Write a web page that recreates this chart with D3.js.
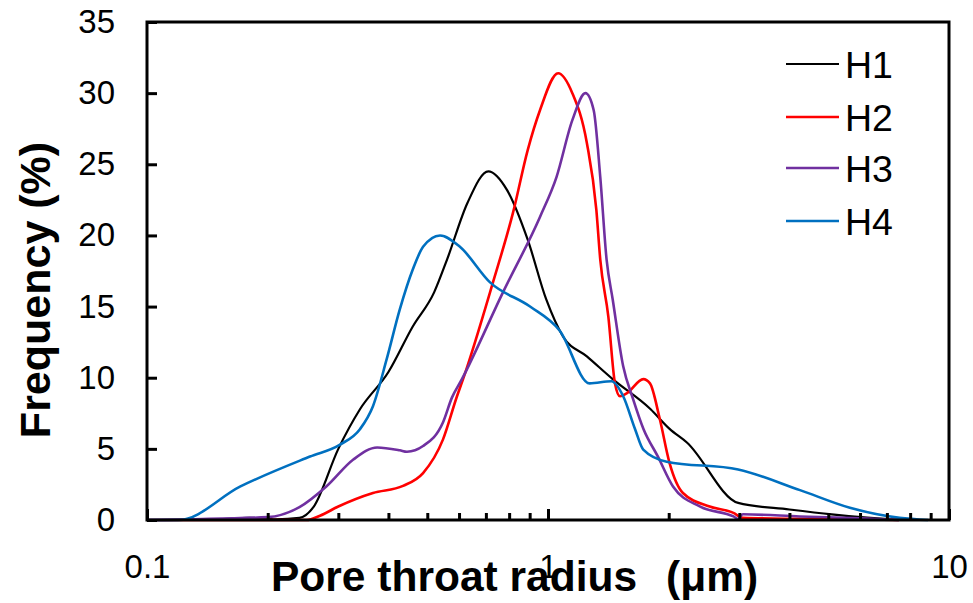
<!DOCTYPE html>
<html><head><meta charset="utf-8">
<script src="https://cdn.jsdelivr.net/npm/d3@7"></script>
<style>
html,body{margin:0;padding:0;background:#fff;}
text{font-family:"Liberation Sans",Arial,sans-serif;}
</style></head>
<body><svg id="c" width="973" height="603"></svg>
<script>
// ---- data ----
const seriesNames = ["H1","H2","H3","H4"];
const seriesColors = ["#000000","#FF0000","#7030A0","#0070C0"];

const radiusH1 = [0.10,0.15,0.18,0.21,0.24,0.26,0.30,0.34,0.40,0.46,0.52,0.56,0.63,0.71,0.79,0.89,0.99,1.09,1.25,1.45,1.80,2.01,2.22,2.98,4.0,5.1,6.25,7.5];
const freqH1   = [0,0.05,0.15,0.05,0.15,0.9,5.0,7.8,10.4,13.6,16.0,18.3,22.3,24.5,23.2,19.7,15.5,12.9,11.5,9.9,7.8,6.4,5.45,1.2,0.74,0.4,0.17,0];

const radiusH2 = [0.10,0.20,0.25,0.27,0.30,0.366,0.435,0.488,0.547,0.593,0.614,0.729,0.818,0.89,0.955,1.06,1.15,1.25,1.32,1.35,1.414,1.469,1.512,1.571,1.729,1.796,1.90,2.01,2.17,2.53,2.9,3.06,4.25,6.25,7.5];
const freqH2   = [0,0,0,0.3,0.95,1.9,2.4,3.3,5.65,8.7,9.9,16.7,21.6,26.0,28.8,31.4,30.0,26.5,21.8,18.3,14.3,9.6,8.7,8.9,9.9,9.6,7.1,4.0,1.9,0.95,0.5,0.15,0.08,0.03,0];

const radiusH3 = [0.10,0.20,0.24,0.28,0.327,0.375,0.427,0.445,0.488,0.547,0.576,0.61,0.772,0.955,1.05,1.15,1.24,1.30,1.35,1.40,1.45,1.54,1.63,1.73,1.88,2.05,2.39,2.9,2.98,3.06,4.25,6.25,7.5];
const freqH3   = [0,0.2,0.9,2.35,4.25,5.1,4.9,4.8,5.2,6.85,8.6,9.9,16.0,21.3,24.1,28.1,30.0,28.8,24.1,18.3,15.5,10.8,8.5,6.4,4.45,2.35,0.95,0.25,0.08,0.4,0.25,0.1,0];

const radiusH4 = [0.10,0.12,0.171,0.255,0.303,0.34,0.366,0.396,0.427,0.46,0.488,0.538,0.603,0.717,0.902,1.07,1.27,1.44,1.54,1.648,1.728,1.977,2.98,4.25,5.66,7.53,8.87];
const freqH4   = [0,0,2.36,4.46,5.3,6.4,8.0,11.3,14.8,17.6,19.2,20.0,19.2,16.7,15.0,13.3,9.6,9.75,8.7,6.4,4.95,4.1,3.55,2.1,0.86,0.15,0];

const radiusSets = [radiusH1,radiusH2,radiusH3,radiusH4];
const freqSets = [freqH1,freqH2,freqH3,freqH4];

const yTicks = [0,5,10,15,20,25,30,35];
const xMinorTicks = [0.2,0.3,0.4,0.5,0.6,0.7,0.8,0.9,2,3,4,5,6,7,8,9];
const xMajorTicks = [0.1,1,10];
const xTitle = "Pore throat radius";
const xUnit = "(μm)";
const yTitle = "Frequency (%)";

// ---- chart ----
const svg = d3.select("#c");
const L=147,R=949,T=22,B=520;
const x = d3.scaleLog().domain([0.1,10]).range([L,R]);
const y = d3.scaleLinear().domain([0,35]).range([B,T]);

// curves
const line = d3.line().x(d=>x(d[0])).y(d=>y(d[1])).curve(d3.curveMonotoneX);
seriesNames.forEach((n,i)=>{
  const pts = radiusSets[i].map((r,j)=>[r,freqSets[i][j]]);
  svg.append("path").attr("d",line(pts)).attr("fill","none")
    .attr("stroke",seriesColors[i]).attr("stroke-width", i===0?2.2:2.6)
    .attr("stroke-linejoin","round");
});

// y axis
const ya = svg.append("g").attr("transform",`translate(${L},0)`)
  .call(d3.axisLeft(y).tickValues(yTicks).tickFormat(d3.format("d")).tickSizeInner(-10).tickSizeOuter(0).tickPadding(32));
ya.selectAll("text").attr("font-size",33).attr("fill","#000");
ya.selectAll("line").attr("stroke","#000").attr("stroke-width",3);
ya.select(".domain").remove();

// x axis minor ticks
const xa = svg.append("g").attr("transform",`translate(0,${B})`)
  .call(d3.axisBottom(x).tickValues(xMinorTicks).tickFormat("").tickSizeInner(-7).tickSizeOuter(0));
xa.selectAll("line").attr("stroke","#000").attr("stroke-width",3);
xa.select(".domain").remove();
const xb = svg.append("g").attr("transform",`translate(0,${B})`)
  .call(d3.axisBottom(x).tickValues(xMajorTicks).tickFormat(d=>d3.format("~g")(d)).tickSizeInner(-11).tickSizeOuter(0).tickPadding(35));
xb.selectAll("line").attr("stroke","#000").attr("stroke-width",3);
xb.selectAll("text").attr("font-size",33).attr("fill","#000");
xb.select(".domain").remove();

// frame
svg.append("rect").attr("x",L).attr("y",T).attr("width",R-L).attr("height",B-T)
  .attr("fill","none").attr("stroke","#000").attr("stroke-width",3);

// titles
const xt = svg.append("text").attr("x",271).attr("y",591).attr("font-size",42.5).attr("font-weight","bold").text(xTitle);
xt.append("tspan").attr("dx",29).text(xUnit);
svg.append("text").attr("transform","translate(50,290) rotate(-90)").attr("text-anchor","middle")
  .attr("font-size",43).attr("font-weight","bold").text(yTitle);

// legend
const lg = svg.append("g");
const legY = [64,117,168,221];
seriesNames.forEach((n,i)=>{
  lg.append("line").attr("x1",786).attr("x2",839).attr("y1",legY[i]).attr("y2",legY[i])
    .attr("stroke",seriesColors[i]).attr("stroke-width",i===0?2.2:2.6);
  lg.append("text").attr("x",845).attr("y",legY[i]+13.5).attr("font-size",37.5).text(n);
});
</script></body></html>
